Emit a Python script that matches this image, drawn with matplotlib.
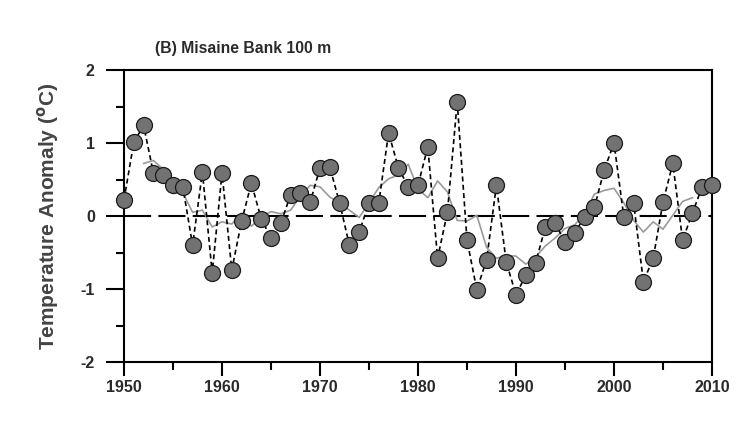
import matplotlib
matplotlib.use("Agg")
import matplotlib.pyplot as plt
from matplotlib.ticker import MultipleLocator

plt.rcParams['font.family'] = ['Liberation Sans', 'DejaVu Sans']
plt.rcParams['font.weight'] = 'bold'
plt.rcParams['axes.unicode_minus'] = False

# annual anomalies, Misaine Bank 100 m
years = list(range(1950, 2011))
anom = [0.22, 1.01, 1.24, 0.59, 0.56, 0.42, 0.40, -0.40, 0.60, -0.78,
        0.59, -0.74, -0.07, 0.45, -0.04, -0.30, -0.10, 0.29, 0.31, 0.19,
        0.66, 0.67, 0.18, -0.40, -0.22, 0.18, 0.18, 1.14, 0.66, 0.40,
        0.42, 0.95, -0.58, 0.05, 1.56, -0.33, -1.01, -0.60, 0.42, -0.63,
        -1.08, -0.81, -0.64, -0.15, -0.10, -0.36, -0.23, -0.01, 0.12, 0.63,
        1.00, -0.01, 0.18, -0.90, -0.58, 0.19, 0.72, -0.33, 0.04, 0.40,
        0.42]

# 5-yr running mean
smooth_years = list(range(1952, 2009))
smooth = [0.72, 0.76, 0.64, 0.31, 0.32, 0.05, 0.08, -0.15, -0.08, -0.11,
          0.04, -0.14, -0.01, 0.06, 0.03, 0.08, 0.27, 0.42, 0.40, 0.26,
          0.18, 0.08, -0.02, 0.18, 0.39, 0.51, 0.56, 0.71, 0.37, 0.25,
          0.48, 0.33, -0.06, -0.07, 0.01, -0.43, -0.58, -0.54, -0.55, -0.66,
          -0.56, -0.41, -0.30, -0.17, -0.12, 0.03, 0.30, 0.35, 0.38, 0.18,
          -0.06, -0.22, -0.08, -0.18, 0.01, 0.20, 0.25]

txt = '#2a2a2a'

fig = plt.figure(figsize=(7.4, 4.46), dpi=100)
ax = fig.add_axes([124/740, 1-362/446, 588/740, 292/446])

ax.axhline(0, color='black', lw=1.5, dashes=(13, 3.5), zorder=1)
ax.plot(smooth_years, smooth, color='#9a9a9a', lw=1.2, zorder=2)
ax.plot(years, anom, color='black', lw=1.2, dashes=(3, 2), zorder=3)
ax.plot(years, anom, 'o', ms=11.5, mfc='#727272', mec='#1a1a1a', mew=0.9,
        zorder=4, clip_on=False)

ax.set_xlim(1950, 2010)
ax.set_ylim(-2, 2)
ax.xaxis.set_major_locator(MultipleLocator(10))
ax.xaxis.set_minor_locator(MultipleLocator(5))
ax.yaxis.set_major_locator(MultipleLocator(1))
ax.yaxis.set_minor_locator(MultipleLocator(0.5))

ax.tick_params(axis='x', which='major', length=10, width=1.5, pad=3,
               labelsize=11.5, labelcolor=txt)
ax.tick_params(axis='x', which='minor', length=6, width=1.5)
ax.tick_params(axis='y', which='major', length=13, width=1.5, pad=8,
               labelsize=11.5, labelcolor=txt)
ax.tick_params(axis='y', which='minor', length=6, width=1.5)
for lab in ax.get_xticklabels() + ax.get_yticklabels():
    lab.set_fontweight('bold')
for sp in ax.spines.values():
    sp.set_linewidth(1.5)

ax.set_ylabel('Temperature Anomaly ($^{\\mathbf{o}}$C)', fontsize=15,
              fontweight='bold', color='#444444', labelpad=14)
fig.text(155/740, 1-48/446, '(B) Misaine Bank 100 m', fontsize=11.3,
         fontweight='bold', color=txt, va='center', ha='left')

fig.savefig('out.png', dpi=100)
